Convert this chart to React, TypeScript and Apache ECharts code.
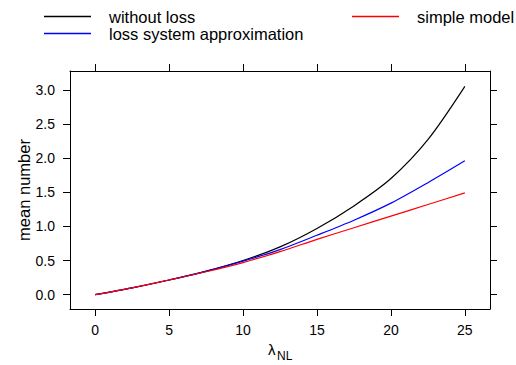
import React, { useEffect, useRef } from "react";
import * as echarts from "echarts";

const lambdas = [0, 2.5, 5, 7.5, 10, 12.5, 15, 17.5, 20, 22.5, 25];
const withoutLoss = [0, 0.1, 0.215, 0.345, 0.5, 0.7, 0.97, 1.3, 1.7, 2.27, 3.05];
const lossApprox = [0, 0.1, 0.215, 0.34, 0.49, 0.66, 0.87, 1.09, 1.34, 1.64, 1.96];
const simpleModel = [0, 0.1, 0.215, 0.335, 0.47, 0.63, 0.81, 0.98, 1.15, 1.32, 1.49];
const xTicks = [0, 5, 10, 15, 20, 25];
const yTicks = [0, 0.5, 1, 1.5, 2, 2.5, 3];
const seriesNames = ["without loss", "loss system approximation", "simple model"];

const FONT = "'Liberation Sans', Arial, Helvetica, sans-serif";

export default function App() {
  const ref = useRef<HTMLDivElement>(null);
  useEffect(() => {
    if (!ref.current) return;
    const chart = echarts.init(ref.current, undefined, { renderer: "svg" });
    const pairs = (ys: number[]) => lambdas.map((x, i) => [x, ys[i]]);
    const tick = (vals: number[]) => ({ show: true, length: 7, inside: false, customValues: vals, lineStyle: { color: "#000", width: 1 } });
    const line = { show: true, onZero: false, lineStyle: { color: "#000", width: 1 } };
    const legendBase = {
      orient: "horizontal" as const,
      padding: 0,
      itemWidth: 47,
      itemHeight: 1.5,
      icon: "rect",
      textStyle: { fontSize: 16.5, fontFamily: FONT, color: "#000", padding: [0, 0, 0, 13], lineHeight: 16 },
    };
    chart.setOption({
      animation: false,
      backgroundColor: "#fff",
      textStyle: { fontFamily: FONT },
      grid: { left: 70, top: 71, right: 26, bottom: 56, containLabel: false },
      legend: [
        { ...legendBase, data: [seriesNames[0]], left: 44, top: 8 },
        { ...legendBase, data: [seriesNames[1]], left: 44, top: 25 },
        { ...legendBase, data: [seriesNames[2]], left: 352, top: 8 },
      ],
      xAxis: [
        {
          type: "value", position: "bottom", min: -1.7, max: 26.7,
          axisLine: line, axisTick: tick(xTicks), splitLine: { show: false },
          axisLabel: { show: true, customValues: xTicks, margin: 14, fontSize: 14, fontFamily: FONT, color: "#000" },
        },
        {
          type: "value", position: "top", min: -1.7, max: 26.7,
          axisLine: line, axisTick: tick(xTicks), splitLine: { show: false },
          axisLabel: { show: false },
        },
      ],
      yAxis: [
        {
          type: "value", position: "left", min: -0.21, max: 3.275,
          axisLine: line, axisTick: tick(yTicks), splitLine: { show: false },
          axisLabel: { show: true, customValues: yTicks, margin: 15, fontSize: 14, fontFamily: FONT, color: "#000", formatter: (v: number) => v.toFixed(1) },
        },
        {
          type: "value", position: "right", min: -0.21, max: 3.275,
          axisLine: line, axisTick: tick(yTicks), splitLine: { show: false },
          axisLabel: { show: false },
        },
      ],
      graphic: [
        { type: "text", x: 24, y: 190, rotation: Math.PI / 2, style: { text: "mean number", fontSize: 16.5, fontFamily: FONT, fill: "#000", align: "center", verticalAlign: "middle" } },
        { type: "text", x: 268, y: 349.5, style: { text: "λ", fontSize: 15, fontFamily: FONT, fill: "#000", align: "left", verticalAlign: "middle" } },
        { type: "text", x: 277, y: 355.5, style: { text: "NL", fontSize: 12, fontFamily: FONT, fill: "#000", align: "left", verticalAlign: "middle" } },
      ],
      series: [
        { name: seriesNames[0], type: "line", data: pairs(withoutLoss), smooth: 0.3, symbol: "none", color: "#000000", lineStyle: { width: 1.2, color: "#000000" } },
        { name: seriesNames[1], type: "line", data: pairs(lossApprox), smooth: 0.3, symbol: "none", color: "#0000ff", lineStyle: { width: 1.2, color: "#0000ff" } },
        { name: seriesNames[2], type: "line", data: pairs(simpleModel), smooth: 0.3, symbol: "none", color: "#ff0000", lineStyle: { width: 1.2, color: "#ff0000" } },
      ],
    });
    return () => chart.dispose();
  }, []);
  return <div ref={ref} style={{ position: "fixed", left: 0, top: 0, width: 516, height: 365 }} />;
}
